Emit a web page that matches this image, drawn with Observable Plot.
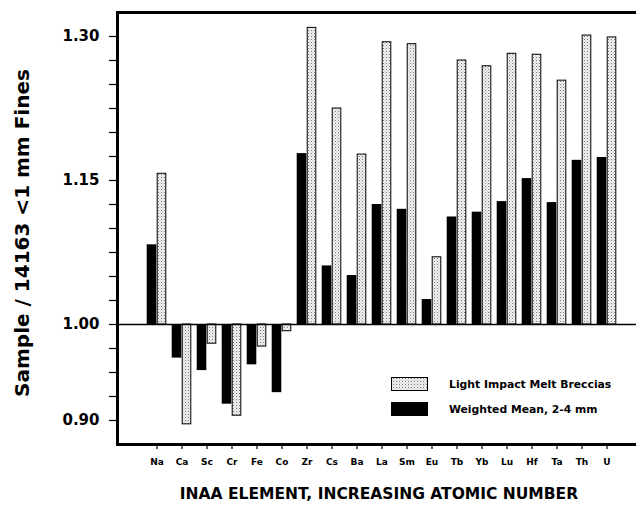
<!DOCTYPE html>
<html><head><meta charset="utf-8">
<script src="https://cdn.jsdelivr.net/npm/d3@7"></script>
<script src="https://cdn.jsdelivr.net/npm/@observablehq/plot@0.6"></script>
<style>body{margin:0;background:#fff} svg{display:block}</style>
</head><body><div id="chart"></div>
<script>
const elements = ["Na","Ca","Sc","Cr","Fe","Co","Zr","Cs","Ba","La","Sm","Eu","Tb","Yb","Lu","Hf","Ta","Th","U"];
const weightedMean = [1.083, 0.965, 0.952, 0.917, 0.958, 0.929, 1.178, 1.061, 1.051, 1.125, 1.120, 1.026, 1.112, 1.117, 1.128, 1.152, 1.127, 1.171, 1.174];
const lightBreccias = [1.157, 0.896, 0.980, 0.905, 0.977, 0.993, 1.309, 1.225, 1.177, 1.294, 1.292, 1.070, 1.275, 1.269, 1.282, 1.281, 1.254, 1.301, 1.299];
const yTicks = [0.900,0.925,0.950,0.975,1.000,1.025,1.050,1.075,1.100,1.125,1.150,1.175,1.200,1.225,1.250,1.275,1.300];
const yLabels = [0.90, 1.00, 1.15, 1.30];
const legendLabels = ["Light Impact Melt Breccias", "Weighted Mean, 2-4 mm"];
const xTitle = "INAA ELEMENT, INCREASING ATOMIC NUMBER";
const yTitle = "Sample / 14163 <1 mm Fines";

const rows = elements.map((e, i) => ({element: e, weighted: weightedMean[i], breccia: lightBreccias[i]}));

const FONT = "'DejaVu Sans', sans-serif";
const step = 25.4, barW = 10, inset = (step - barW) / 2;

const plot = Plot.plot({
  width: 636, height: 508,
  marginLeft: 117, marginRight: -3, marginTop: 12, marginBottom: 64,
  style: {fontFamily: FONT, fontWeight: "bold", background: "#fff", color: "#000"},
  x: {type: "band", domain: elements, range: [153 - step / 2, 153 + 18 * step + step / 2], padding: 0},
  y: {domain: [0.875, 1.325]},
  marks: [
    Plot.barY(rows, {x: "element", y1: 1, y2: "weighted", fill: "#000", dx: -5, insetLeft: inset, insetRight: inset}),
    Plot.barY(rows, {x: "element", y1: 1, y2: "breccia", fill: "#ddd", stroke: "#000", strokeWidth: 1, dx: 5, insetLeft: inset + 0.5, insetRight: inset + 0.5}),
    Plot.ruleY([1], {stroke: "#000", strokeWidth: 1.3}),
    Plot.axisY({ticks: yTicks, tickFormat: d => yLabels.includes(d) ? d.toFixed(2) : "", tickSize: 8, tickPadding: 10, label: null, fontSize: 15, strokeWidth: 1.2}),
    Plot.axisX({tickSize: 5, tickPadding: 9, label: null, fontSize: 9, strokeWidth: 1.2}),
    Plot.frame({stroke: "#000", strokeWidth: 3})
  ]
});

document.getElementById("chart").appendChild(plot);
const svg = d3.select(plot);

// stipple pattern
const defs = svg.insert("defs", ":first-child");
const pat = defs.append("pattern").attr("id", "dots").attr("patternUnits", "userSpaceOnUse").attr("width", 3).attr("height", 3);
pat.append("rect").attr("width", 3).attr("height", 3).attr("fill", "#f2f2f2");
pat.append("rect").attr("x", 0).attr("y", 0).attr("width", 1).attr("height", 1).attr("fill", "#777");
pat.append("rect").attr("x", 1.5).attr("y", 1.5).attr("width", 1).attr("height", 1).attr("fill", "#aaa");

svg.selectAll('g[aria-label="bar"]').filter((d, i) => i === 1).attr("fill", "url(#dots)");

// titles
svg.append("text")
  .attr("transform", "translate(22,233) rotate(-90)")
  .attr("text-anchor", "middle").attr("dominant-baseline", "central")
  .attr("font-family", FONT).attr("font-weight", "bold").attr("font-size", 20)
  .text(yTitle);
svg.append("text")
  .attr("x", 379).attr("y", 499).attr("text-anchor", "middle")
  .attr("font-family", FONT).attr("font-weight", "bold").attr("font-size", 15.5)
  .text(xTitle);

// legend
const lg = svg.append("g").attr("font-family", FONT).attr("font-weight", "bold").attr("font-size", 10.8).attr("text-anchor", "start");
lg.append("rect").attr("x", 391.5).attr("y", 377.5).attr("width", 36).attr("height", 13).attr("fill", "url(#dots)").attr("stroke", "#000").attr("stroke-width", 1);
lg.append("rect").attr("x", 391).attr("y", 402).attr("width", 37).attr("height", 14).attr("fill", "#000");
lg.append("text").attr("x", 449).attr("y", 388).text(legendLabels[0]);
lg.append("text").attr("x", 449).attr("y", 413).text(legendLabels[1]);
</script>
</body></html>
